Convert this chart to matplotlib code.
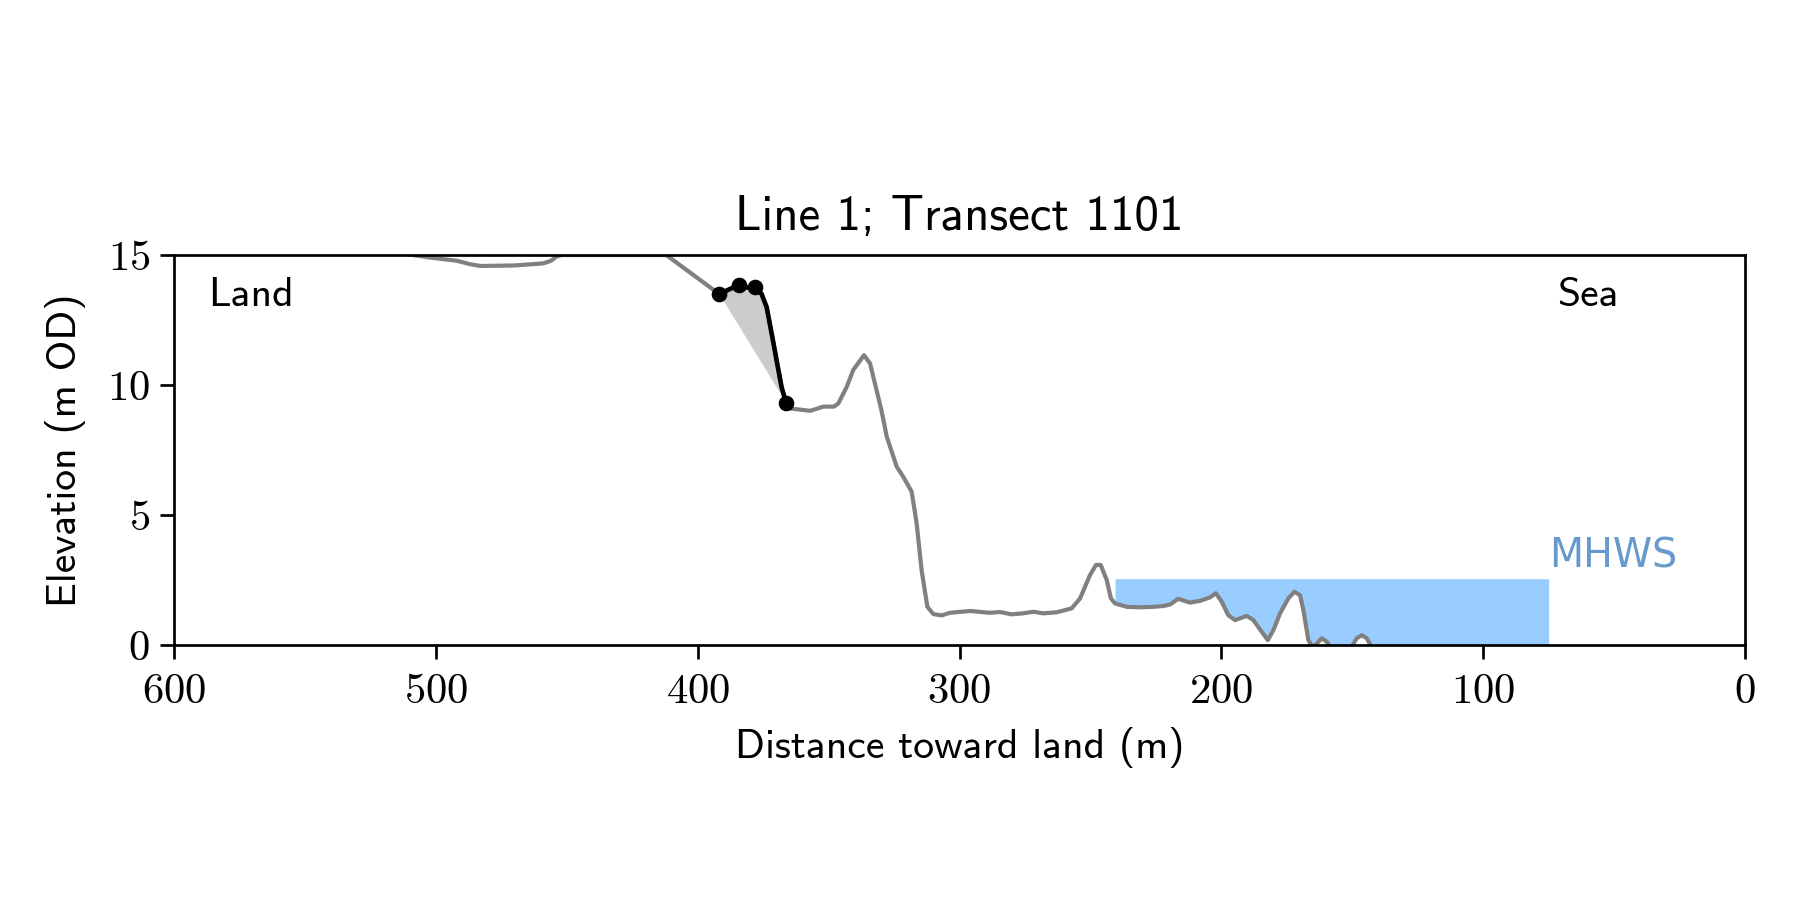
import numpy as np
import matplotlib
matplotlib.use("Agg")
import matplotlib.pyplot as plt

plt.rcParams['axes.formatter.use_mathtext'] = True

# ---- data ----
distance = [512, 502, 492, 487, 483, 470, 459, 456, 454, 452, 432, 412,
            391.8, 388, 384.2, 381, 378.2, 375.6, 373.7, 371.8, 369.9, 368, 366.3,
            364.8, 357, 352, 348, 346.3, 343.1, 340.6, 336.5, 334.2, 330, 327.8,
            324, 321.5, 318.3, 316.4, 314.5, 312.3, 310, 306.8, 303.7, 296, 288.4,
            284.6, 280.1, 275.7, 271.8, 268.1, 262.9, 257.2, 254, 250.2, 247.9,
            246.1, 243.8, 242.2, 240.6, 236.2, 231.1, 226, 222.2, 219.6, 216.5,
            212, 208.2, 204.4, 202.1, 199.9, 197.4, 194.8, 190.3, 187.8, 184.6,
            182.3, 180.1, 177.6, 174.4, 172.1, 170, 168.7, 166.8, 165.0, 161.7,
            159.8, 158.3, 154, 150.2, 148.3, 146.4, 144.5, 142.8, 138, 125, 110,
            95, 75]
elevation = [15.05, 14.9, 14.78, 14.65, 14.58, 14.6, 14.68, 14.78, 14.94, 15.0, 15.0, 15.0,
             13.5, 13.68, 13.86, 13.75, 13.78, 13.5, 13.0, 12.0, 10.96, 9.93, 9.32,
             9.1, 9.01, 9.17, 9.17, 9.29, 9.93, 10.58, 11.15, 10.83, 9.1, 8.01,
             6.86, 6.47, 5.9, 4.68, 2.88, 1.47, 1.19, 1.14, 1.24, 1.31, 1.24,
             1.27, 1.18, 1.22, 1.28, 1.22, 1.26, 1.41, 1.79, 2.69, 3.08,
             3.08, 2.5, 1.79, 1.6, 1.47, 1.45, 1.47, 1.5, 1.56, 1.78,
             1.63, 1.7, 1.83, 1.99, 1.67, 1.15, 0.96, 1.12, 0.96, 0.51,
             0.19, 0.58, 1.22, 1.8, 2.05, 1.92, 1.35, 0.19, -0.1, 0.26,
             0.13, -0.1, -0.3, -0.05, 0.26, 0.38, 0.26, -0.05, -0.4, -0.6, -0.8,
             -1.0, -1.2]

cliff_distance = [391.8, 384.2, 378.2, 366.3]
cliff_elevation = [13.5, 13.86, 13.78, 9.32]

mhws_level = 2.55
mhws_start = 240.6
mhws_end = 75

title = "Line 1; Transect 1101"
xticks = [600, 500, 400, 300, 200, 100, 0]
yticks = [0, 5, 10, 15]

# ---- plot ----
d = np.array(distance)
z = np.array(elevation)

fig = plt.figure(figsize=(12, 6), dpi=150)
ax = fig.add_axes([0.0967, 0.2833, 0.8728, 0.4333])

# MHWS fill
m = (d <= mhws_start) & (d >= mhws_end)
ax.fill_between(d[m], z[m], mhws_level, color='#99ccff', lw=0, zorder=1)
ax.text(mhws_end, 3.0, "MHWS", color='#6699cc', fontsize=19,
        family='DejaVu Sans', ha='left', va='baseline')

# full profile
ax.plot(d, z, color='#808080', lw=2.0, zorder=2)

# cliff segment
c = (d <= cliff_distance[0]) & (d >= cliff_distance[-1])
chord = np.interp(d[c], [cliff_distance[-1], cliff_distance[0]],
                  [cliff_elevation[-1], cliff_elevation[0]])
ax.fill_between(d[c], z[c], chord, color='#cccccc', lw=0, zorder=1.5)
ax.plot(d[c], z[c], color='black', lw=2.2, zorder=3)
ax.plot(cliff_distance, cliff_elevation, 'o', color='black', ms=6.5, zorder=4)

ax.set_xlim(600, 0)
ax.set_ylim(0, 15)
ax.set_xticks(xticks)
ax.set_yticks(yticks)
for lab in ax.get_xticklabels() + ax.get_yticklabels():
    lab.set_family('cmr10')
    lab.set_fontsize(20.5)
ax.tick_params(axis='x', direction='out', length=6.5, width=1.3, top=False, pad=7)
ax.tick_params(axis='y', direction='out', length=6.5, width=1.3, right=False, pad=5)
for s in ax.spines.values():
    s.set_linewidth(1.3)

ax.text(0.022, 0.945, "Land", transform=ax.transAxes, family='cmss10',
        fontsize=20, ha='left', va='top')
ax.text(71.9, 14.17, "Sea", family='cmss10', fontsize=20, ha='left', va='top')

ax.set_title(title, family='cmss10', fontsize=23.5, pad=12)
ax.set_xlabel("Distance toward land (m)", family='cmss10', fontsize=20, labelpad=8)
ax.set_ylabel("Elevation (m OD)", family='cmss10', fontsize=20, labelpad=10)

fig.savefig("out.png", dpi=150)
